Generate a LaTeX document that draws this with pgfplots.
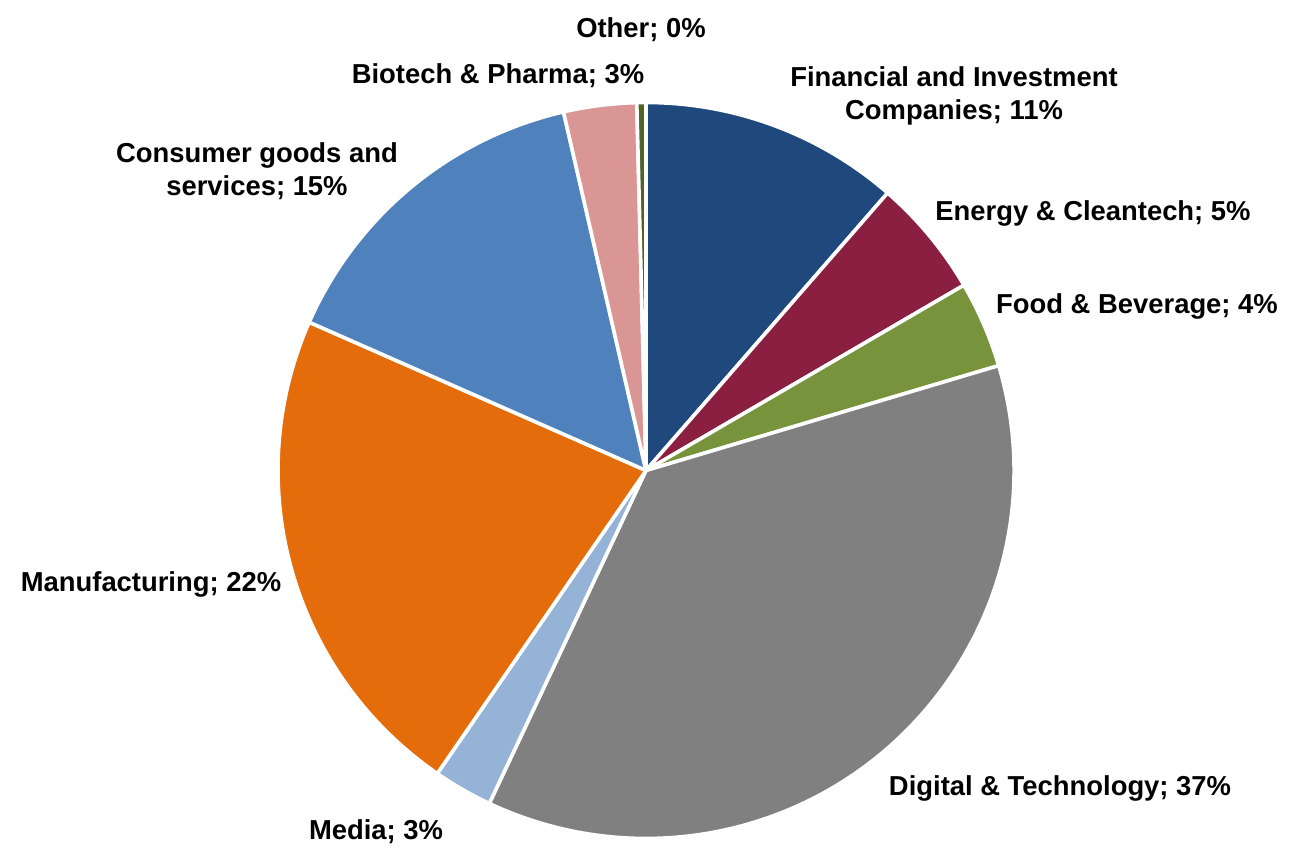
\documentclass[border=0pt]{standalone}
\usepackage{pgfplots}
\usepackage{pgfplotstable}
\pgfplotsset{compat=1.18}
\usepackage{fontspec}
\setmainfont{Liberation Sans}

\definecolor{cFin}{RGB}{31,73,125}
\definecolor{cEne}{RGB}{139,31,65}
\definecolor{cFood}{RGB}{119,147,60}
\definecolor{cDig}{RGB}{128,128,128}
\definecolor{cMed}{RGB}{149,179,215}
\definecolor{cMan}{RGB}{228,108,10}
\definecolor{cCon}{RGB}{79,129,189}
\definecolor{cBio}{RGB}{217,150,148}
\definecolor{cOth}{RGB}{79,98,40}

\tikzset{lab/.style={font=\fontsize{13.7}{16.5}\selectfont\bfseries, align=center, inner sep=0pt}}

% shares in percent, clockwise from 12 o'clock
\pgfplotstableread{
value col
11.4  cFin
5.2   cEne
3.8   cFood
36.6  cDig
2.6   cMed
22.0  cMan
14.8  cCon
3.2   cBio
0.4   cOth
}\piedata

\begin{document}
\begin{tikzpicture}
\begin{axis}[
    width=651pt, height=424pt, scale only axis,
    xmin=0, xmax=1302, ymin=0, ymax=848,
    hide axis, clip=false,
]
    \addplot[draw=none] coordinates {(0,0) (1302,848)};
    \def\cum{0}
    \pgfplotsforeachungrouped \i in {0,...,8} {
        \pgfplotstablegetelem{\i}{value}\of\piedata \let\v\pgfplotsretval
        \pgfplotstablegetelem{\i}{col}\of\piedata \let\c\pgfplotsretval
        \pgfmathsetmacro\a{90-3.6*\cum}
        \pgfmathsetmacro\b{90-3.6*(\cum+\v)}
        \edef\temp{\noexpand\filldraw[fill=\c, draw=white, line width=1.8pt, line join=round]
            (axis cs:646,377.5) -- ++(\a:184pt) arc[start angle=\a, end angle=\b, radius=184pt] -- cycle;}
        \temp
        \pgfmathsetmacro\cum{\cum+\v}
    }
    \node[lab] at (axis cs:641,818) {Other; 0\%};
    \node[lab] at (axis cs:498,772) {Biotech \& Pharma; 3\%};
    \node[lab] at (axis cs:954,752) {Financial and Investment\\Companies; 11\%};
    \node[lab] at (axis cs:1093,635) {Energy \& Cleantech; 5\%};
    \node[lab] at (axis cs:1137,542) {Food \& Beverage; 4\%};
    \node[lab] at (axis cs:1060,60) {Digital \& Technology; 37\%};
    \node[lab] at (axis cs:376,16) {Media; 3\%};
    \node[lab] at (axis cs:151,264) {Manufacturing; 22\%};
    \node[lab] at (axis cs:257,677) {Consumer goods and\\services; 15\%};
\end{axis}
\end{tikzpicture}
\end{document}
